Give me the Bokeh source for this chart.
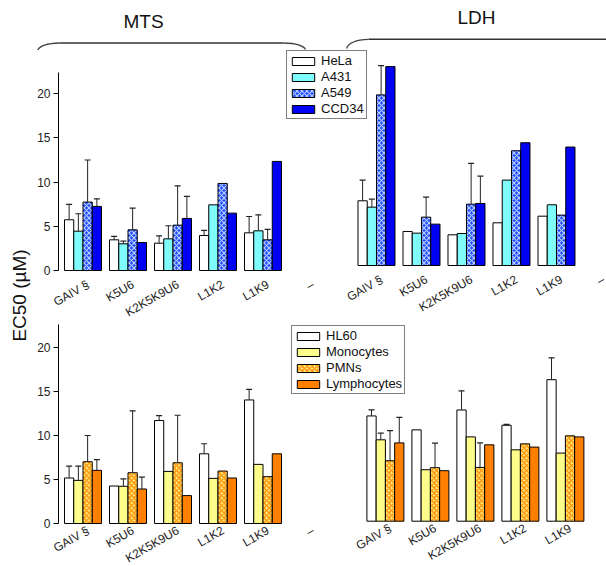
import math
from bokeh.plotting import figure
from bokeh.models import Range1d, FixedTicker, Legend, LegendItem, ColumnDataSource, LabelSet
from bokeh.layouts import column, row
from bokeh.embed import file_html
from bokeh.resources import INLINE
from bokeh.core.properties import value

FONT = "Liberation Sans"

# ---------------- data ----------------
categories = ["GAIV §", "K5U6", "K2K5K9U6", "L1K2", "L1K9", "–"]
peptides = categories[:5]

cell_lines = ["HeLa", "A431", "A549", "CCD34"]
blood_cells = ["HL60", "Monocytes", "PMNs", "Lymphocytes"]

# MTS assay, cell lines (EC50, µM) and upper error-bar ends
mts_hela = [5.74, 3.47, 3.09, 3.96, 4.26]
mts_hela_err = [7.47, 3.85, 3.92, 4.53, 6.11]
mts_a431 = [4.45, 3.02, 3.58, 7.43, 4.49]
mts_a431_err = [6.42, 3.32, 5.06, None, 6.30]
mts_a549 = [7.74, 4.60, 5.13, 9.85, 3.47]
mts_a549_err = [12.50, 7.06, 9.58, None, 4.65]
mts_ccd34 = [7.25, 3.17, 5.89, 6.49, 12.34]
mts_ccd34_err = [8.11, None, 8.38, None, None]

# LDH assay, cell lines
ldh_hela = [7.32, 3.85, 3.47, 4.83, 5.58]
ldh_hela_err = [9.66, None, None, None, None]
ldh_a431 = [6.60, 3.66, 3.62, 9.66, 6.87]
ldh_a431_err = [7.50, None, None, None, None]
ldh_a549 = [19.30, 5.47, 6.94, 12.98, 5.70]
ldh_a549_err = [22.60, 7.74, 11.55, None, None]
ldh_ccd34 = [22.50, 4.68, 7.02, 13.89, 13.40]
ldh_ccd34_err = [None, None, 10.10, None, None]

# MTS assay, blood cells
mts_hl60 = [5.17, 4.26, 11.70, 7.92, 14.04]
mts_hl60_err = [6.53, None, 12.26, 9.06, 15.25]
mts_mono = [4.90, 4.23, 5.92, 5.13, 6.72]
mts_mono_err = [6.53, 5.06, None, None, None]
mts_pmn = [7.02, 5.77, 6.90, 5.96, 5.32]
mts_pmn_err = [10.00, 12.80, 12.30, None, None]
mts_lymph = [6.04, 3.92, 3.17, 5.17, 7.92]
mts_lymph_err = [7.25, 5.28, None, None, None]

# LDH assay, blood cells
ldh_hl60 = [11.96, 10.38, 12.64, 10.90, 16.08]
ldh_hl60_err = [12.64, None, 14.80, 11.00, 18.57]
ldh_mono = [9.25, 5.85, 9.58, 8.11, 7.74]
ldh_mono_err = [10.00, None, None, None, None]
ldh_pmn = [6.87, 6.08, 6.11, 8.79, 9.70]
ldh_pmn_err = [10.30, 8.87, 8.90, None, None]
ldh_lymph = [8.90, 5.74, 8.68, 8.42, 9.58]
ldh_lymph_err = [11.80, None, None, None, None]

y_ticks = [0, 5, 10, 15, 20]
assays = ["MTS", "LDH"]
y_title = "EC50 (µM)"

# ---------------- styles ----------------
cell_styles = [
    dict(fill_color="white"),
    dict(fill_color="#80fbfb"),
    dict(fill_color="#1e4cff", hatch_pattern="diagonal_cross", hatch_color="#b9ccff",
         hatch_scale=5, hatch_weight=1.2),
    dict(fill_color="#0000f2"),
]
blood_styles = [
    dict(fill_color="white"),
    dict(fill_color="#fdfd8c"),
    dict(fill_color="#ffe27a", hatch_pattern="diagonal_cross", hatch_color="#ff9000",
         hatch_scale=5, hatch_weight=1.3),
    dict(fill_color="#ff8000"),
]

W = 606
LEFT_W = 36          # column holding the y title
FIG_W = W - LEFT_W
AXIS_X = 58          # page x of the y axis line
FIRST_C = 82.5       # page x of the first category centre
UNIT = 45.0          # px per category
BAR_W = 0.2056       # bar width in category units
DX = [-1.5 * BAR_W, -0.5 * BAR_W, 0.5 * BAR_W, 1.5 * BAR_W]
X_START = -(FIRST_C - LEFT_W) / UNIT
X_END = X_START + FIG_W / UNIT
AXIS_LOC = -(FIRST_C - AXIS_X) / UNIT
LABEL_DX = 5.0       # label anchor shift right of the category centre (px)


def draw_panel(p, xoff, yname, vals, errs, styles, label_drop):
    rends = []
    extra = {"y_range_name": yname} if yname else {}
    for k in range(4):
        xs = [xoff + i + DX[k] for i in range(len(peptides))]
        src = ColumnDataSource(dict(x=xs, top=vals[k]))
        rends.append(p.vbar(x="x", top="top", bottom=0, width=BAR_W, source=src,
                            line_color="black", line_width=1, **styles[k], **extra))
    for k in range(4):
        ex, ey0, ey1 = [], [], []
        for i in range(len(peptides)):
            if errs[k][i] is not None:
                ex.append(xoff + i + DX[k])
                ey0.append(vals[k][i])
                ey1.append(errs[k][i])
        if not ex:
            continue
        p.segment(x0=ex, y0=ey0, x1=ex, y1=ey1, line_color="#222222", line_width=1, **extra)
        p.scatter(x=ex, y=ey1, marker="dash", size=6, line_color="#222222",
                  line_width=1.2, **extra)
    # category labels under the panel (kept inside the page at the right edge)
    lx, lt, lo = [], [], []
    for i, c in enumerate(categories):
        xv = xoff + i
        if xv <= X_END:
            lx.append(xv)
            lt.append(c)
            lo.append(min(LABEL_DX, (X_END - xv) * UNIT - 3.0))
    lsrc = ColumnDataSource(dict(x=lx, y=[0] * len(lx), text=lt, dx=lo))
    p.add_layout(LabelSet(x="x", y="y", text="text", source=lsrc, angle=math.pi / 6,
                          x_offset="dx", y_offset=-label_drop, text_align="right",
                          text_baseline="middle", text_font=value(FONT),
                          text_font_size="12px", text_color="#222222", **extra))
    return rends


def make_row(page_top, page_bottom, page_base, px_per_unit, right_shift_px, xoff_right,
             axis_top, left_vals, left_errs, right_vals, right_errs, styles, names,
             legend_left, legend_bottom, label_drop):
    height = page_bottom - page_top
    ymin = -(page_bottom - page_base) / px_per_unit
    ymax = (page_base - page_top) / px_per_unit
    p = figure(width=FIG_W, height=height, output_backend="svg", toolbar_location=None,
               x_range=Range1d(X_START, X_END), y_range=Range1d(ymin, ymax),
               x_axis_type=None,
               min_border_left=0, min_border_right=0, min_border_top=0,
               min_border_bottom=0)
    sh = right_shift_px / px_per_unit
    p.extra_y_ranges = {"right": Range1d(ymin - sh, ymax - sh)}
    p.outline_line_color = None
    p.grid.visible = False
    p.background_fill_color = "white"
    p.border_fill_color = "white"

    left_r = draw_panel(p, 0.0, None, left_vals, left_errs, styles, label_drop)
    draw_panel(p, xoff_right, "right", right_vals, right_errs, styles, label_drop)

    ya = p.yaxis[0]
    ya.fixed_location = AXIS_LOC
    ya.ticker = FixedTicker(ticks=y_ticks)
    ya.bounds = (0, axis_top)
    ya.major_tick_out = 5
    ya.major_tick_in = 0
    ya.minor_tick_line_color = None
    ya.axis_line_color = "black"
    ya.major_tick_line_color = "black"
    ya.major_label_text_font = FONT
    ya.major_label_text_font_size = "12px"
    ya.major_label_text_color = "#222222"
    ya.major_label_standoff = 3

    leg = Legend(items=[LegendItem(label=n, renderers=[r]) for n, r in zip(names, left_r)],
                 location=(legend_left - LEFT_W, page_bottom - legend_bottom))
    leg.border_line_color = "black"
    leg.border_line_width = 1
    leg.background_fill_color = "white"
    leg.background_fill_alpha = 1
    leg.padding = 2
    leg.margin = 0
    leg.spacing = 1
    leg.glyph_width = 28
    leg.glyph_height = 10
    leg.label_height = 14
    leg.label_standoff = 4
    leg.label_text_font = FONT
    leg.label_text_font_size = "13px"
    leg.label_text_color = "#111111"
    p.add_layout(leg)
    return p


HDR_H = 50
SPLIT = 320
H = 566

top = make_row(HDR_H, SPLIT, 270, 8.84, 5.0, 6.522, 22.4,
               [mts_hela, mts_a431, mts_a549, mts_ccd34],
               [mts_hela_err, mts_a431_err, mts_a549_err, mts_ccd34_err],
               [ldh_hela, ldh_a431, ldh_a549, ldh_ccd34],
               [ldh_hela_err, ldh_a431_err, ldh_a549_err, ldh_ccd34_err],
               cell_styles, cell_lines, 286, 119, 13)

bottom = make_row(SPLIT, H, 523, 8.8, 2.3, 6.72, 22.6,
                  [mts_hl60, mts_mono, mts_pmn, mts_lymph],
                  [mts_hl60_err, mts_mono_err, mts_pmn_err, mts_lymph_err],
                  [ldh_hl60, ldh_mono, ldh_pmn, ldh_lymph],
                  [ldh_hl60_err, ldh_mono_err, ldh_pmn_err, ldh_lymph_err],
                  blood_styles, blood_cells, 291, 394, 6)

# ---------------- header (assay names with braces) ----------------
hdr = figure(width=W, height=HDR_H, output_backend="svg", toolbar_location=None,
             x_range=Range1d(0, W), y_range=Range1d(0, HDR_H),
             x_axis_type=None, y_axis_type=None, min_border=0)
hdr.outline_line_color = None
hdr.background_fill_color = "white"


def hy(v):
    return HDR_H - v


hdr.text(x=[143, 476], y=[hy(20.5), hy(16.5)], text=assays,
         text_align="center", text_baseline="middle", text_font=value(FONT),
         text_font_size="19px", text_color="#111111")


def brace(x0, x1, yend0, yend1, yflat):
    hdr.quadratic(x0=[x0], y0=[hy(yend0)], x1=[x0 + 22], y1=[hy(yflat)],
                  cx=[x0 + 3], cy=[hy(yflat + 0.5)], line_color="#444444", line_width=1.3)
    hdr.segment(x0=[x0 + 22], y0=[hy(yflat)], x1=[x1 - 22], y1=[hy(yflat)],
                line_color="#333333", line_width=1.6)
    hdr.quadratic(x0=[x1 - 22], y0=[hy(yflat)], x1=[x1], y1=[hy(yend1)],
                  cx=[x1 - 3], cy=[hy(yflat + 0.5)], line_color="#444444", line_width=1.3)


brace(37, 305, 50, 49, 42.5)
brace(346, 640, 48, 47, 38.8)

# ---------------- y-axis title spanning both rows ----------------
ylab = figure(width=LEFT_W, height=H - HDR_H, output_backend="svg", toolbar_location=None,
              x_range=Range1d(0, LEFT_W), y_range=Range1d(0, H - HDR_H),
              x_axis_type=None, y_axis_type=None, min_border=0)
ylab.outline_line_color = None
ylab.text(x=[19], y=[H - 295], text=[y_title], angle=math.pi / 2,
          text_align="center", text_baseline="middle", text_font=value(FONT),
          text_font_size="19px", text_color="#111111")

layout = column(hdr, row(ylab, column(top, bottom)))
open("out.html", "w").write(file_html(layout, INLINE))
